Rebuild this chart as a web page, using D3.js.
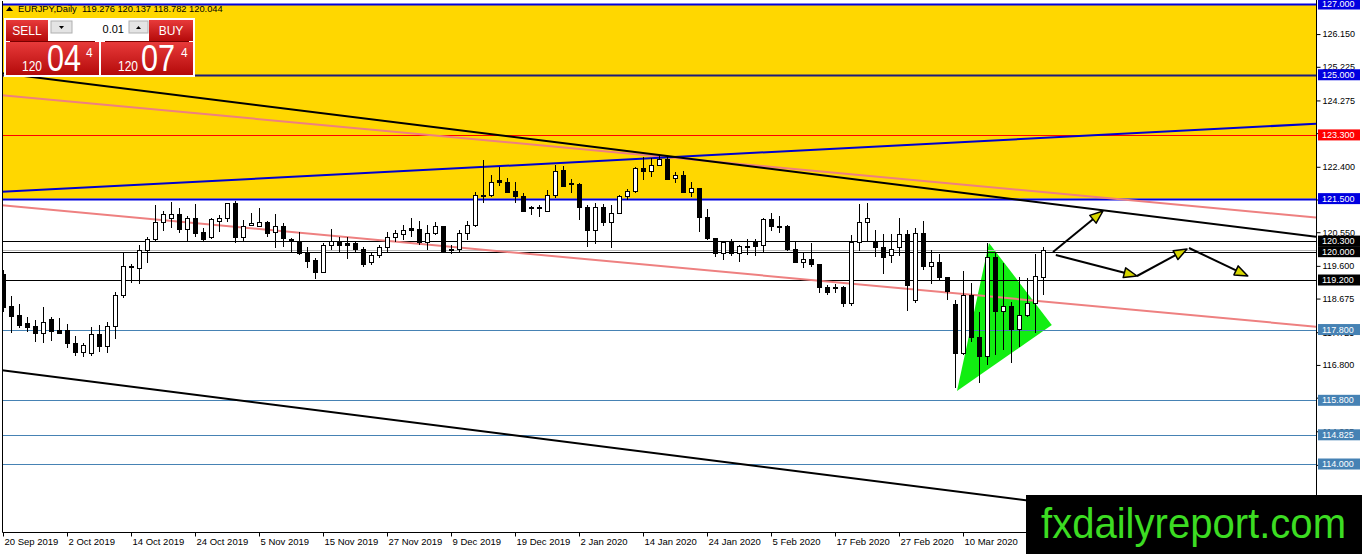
<!DOCTYPE html>
<html>
<head>
<meta charset="utf-8">
<script src="https://cdn.jsdelivr.net/npm/d3@7"></script>
<style>
html, body { margin: 0; padding: 0; background: #fff; overflow: hidden; }
svg { display: block; font-family: "Liberation Sans", Arial, sans-serif; }
</style>
</head>
<body>
<div id="chart"></div>
<script>
const width = 1362, height = 554;

const symbol = "EURJPY,Daily";

// daily bars, 20 Sep 2019 .. 24 Mar 2020
const opens = [119.342,118.465,118.183,117.957,117.872,117.702,118.070,117.759,117.759,117.392,
  117.137,117.109,117.646,117.307,117.872,118.776,119.568,119.511,120.020,120.331,
  120.811,120.952,121.065,120.641,120.924,120.556,120.387,120.867,120.924,121.348,
  120.415,120.754,120.726,120.839,120.556,120.698,120.331,120.246,119.963,119.737,
  119.426,120.161,120.274,120.218,120.218,120.076,119.681,119.879,120.105,120.415,
  120.500,120.669,120.641,120.246,120.528,120.698,120.076,120.048,120.528,120.754,
  121.602,121.574,121.998,121.969,121.687,121.546,121.235,121.207,121.150,121.574,
  122.308,121.941,121.885,121.235,120.585,121.263,120.839,121.093,121.546,121.687,
  122.337,122.280,122.450,122.619,122.082,122.167,121.659,121.772,120.980,120.359,
  119.935,120.246,119.963,120.105,120.246,120.161,120.896,120.726,120.726,120.048,
  119.681,119.766,119.652,119.002,118.974,119.002,118.522,120.246,120.839,120.246,
  120.105,119.879,120.105,120.500,118.607,120.528,119.568,119.681,119.257,118.494,
  117.109,118.776,117.589,117.024,119.850,118.296,118.437,117.787,118.183,118.550,
  119.276];
const highs = [119.483,118.748,118.522,118.155,118.070,118.437,118.155,118.126,117.957,117.618,
  117.420,117.872,117.929,118.013,118.861,119.963,119.652,120.189,120.416,121.320,
  121.150,121.404,121.235,121.009,121.348,120.669,120.952,121.037,121.376,121.433,
  120.896,121.093,121.235,120.867,121.065,120.811,120.387,120.556,120.133,119.822,
  120.246,120.641,120.415,120.415,120.274,120.133,119.963,120.189,120.556,120.613,
  120.754,120.952,120.867,120.754,120.839,120.726,120.189,120.613,120.867,121.687,
  122.591,122.167,122.393,122.082,121.969,121.659,121.291,121.320,121.743,122.450,
  122.421,122.054,121.941,121.320,121.376,121.348,121.320,121.602,121.772,122.393,
  122.676,122.648,122.733,122.676,122.252,122.280,121.969,121.800,121.207,120.359,
  120.274,120.359,120.189,120.359,120.359,120.952,121.093,121.009,120.754,120.274,
  119.963,120.246,119.652,119.059,119.087,119.030,120.472,121.348,121.376,120.613,
  120.500,120.500,120.952,120.613,120.670,120.868,120.048,119.935,119.257,118.635,
  119.455,119.115,118.296,120.246,119.963,119.681,118.578,119.285,119.257,119.935,
  120.137];
const lows = [118.296,117.702,117.844,117.731,117.448,117.420,117.476,117.680,117.279,117.052,
  117.024,117.052,117.165,117.137,117.533,118.692,119.116,119.087,119.681,120.274,
  120.585,120.669,120.528,120.302,120.415,120.274,120.359,120.556,120.839,120.246,
  120.302,120.726,120.698,120.415,120.105,120.133,119.992,119.907,119.540,119.228,
  119.398,120.048,119.963,119.794,119.963,119.568,119.624,119.822,119.963,120.274,
  120.331,120.415,120.189,120.048,120.472,119.963,119.935,119.992,120.331,120.698,
  121.376,121.546,121.856,121.659,121.376,121.122,121.037,120.980,121.122,121.517,
  121.828,121.659,120.896,120.133,120.218,120.726,120.105,121.065,121.461,121.659,
  122.026,122.110,122.421,122.026,121.941,121.659,121.546,120.556,120.331,119.850,
  119.766,119.879,119.709,119.907,119.879,119.963,120.585,120.528,120.020,119.681,
  119.540,119.568,118.833,118.776,118.833,118.437,118.465,120.020,120.274,119.850,
  119.370,119.681,119.879,118.324,118.550,119.483,119.087,119.200,118.635,116.148,
  117.081,117.448,116.289,116.798,117.081,117.222,116.854,117.307,118.155,117.702,
  118.782];
const closes = [118.409,118.155,117.928,117.844,117.702,118.013,117.731,117.702,117.392,117.137,
  117.363,117.646,117.307,117.872,118.776,119.568,119.540,120.020,120.331,120.811,
  121.065,121.065,120.641,120.924,120.528,120.331,120.896,120.924,121.348,120.415,
  120.726,120.783,120.839,120.528,120.698,120.359,120.274,119.963,119.709,119.426,
  120.161,120.274,120.161,120.189,120.076,119.652,119.879,120.105,120.415,120.528,
  120.613,120.613,120.246,120.528,120.698,119.992,120.048,120.528,120.754,121.602,
  121.546,121.969,121.969,121.659,121.546,121.150,121.207,121.235,121.574,122.280,
  121.856,121.885,121.235,120.585,121.263,120.839,121.093,121.546,121.687,122.337,
  122.280,122.450,122.619,122.054,122.167,121.659,121.772,120.980,120.359,119.935,
  120.246,119.963,120.133,120.133,120.133,120.896,120.698,120.698,120.048,119.681,
  119.766,119.652,119.002,118.833,119.002,118.522,120.246,120.839,120.952,120.105,
  119.822,120.076,120.500,119.031,120.528,119.568,119.681,119.257,118.861,117.109,
  118.776,117.561,117.024,119.850,118.296,118.437,117.787,118.183,118.550,119.313,
  120.044];

const dateTickBars = [0, 8, 16, 24, 32, 40, 48, 56, 64, 72, 80, 88, 96, 104, 112, 120];
const dateTickLabels = ["20 Sep 2019", "2 Oct 2019", "14 Oct 2019", "24 Oct 2019", "5 Nov 2019",
  "15 Nov 2019", "27 Nov 2019", "9 Dec 2019", "19 Dec 2019", "2 Jan 2020", "14 Jan 2020",
  "24 Jan 2020", "5 Feb 2020", "17 Feb 2020", "27 Feb 2020", "10 Mar 2020"];

const priceTicks = [126.150, 125.225, 124.275, 123.350, 122.400, 121.475, 120.550, 119.600,
  118.675, 117.725, 116.800, 115.875, 114.925, 113.975, 113.025];

// drawn objects
const zoneTop = 127.0, zoneBottom = 121.5;
const blueLevels = [127.0, 125.0, 121.5];
const redLevels = [123.3];
const blackLevels = [120.3, 120.0, 119.2];
const steelLevels = [117.8, 115.8, 114.825, 114.0];

// trendlines as [bar, price] anchor pairs, drawn as rays across the chart
const blackTrends = [[[0, 125.038], [130, 121.382]], [[0, 116.646], [130, 112.912]]];
const pinkTrends = [[[0, 124.420], [130, 121.684]], [[0, 121.312], [130, 118.595]]];
const blueTrends = [[[0, 121.692], [130, 123.216]]];

const triangle = [[119.25, 116.063], [123.25, 120.246], [131.1, 117.928]];

const arrows = [
  [[131.25, 119.991], [137.5, 121.150]],
  [[131.6, 119.906], [141.75, 119.313]],
  [[141.75, 119.313], [148.0, 120.076]],
  [[148.25, 120.105], [155.6, 119.313]]
];

const bars = opens.map((o, i) => ({ i, o, h: highs[i], l: lows[i], c: closes[i] }));
const last = bars[bars.length - 1];

const plotLeft = 2, plotRight = 1316, plotTop = 1, plotBottom = 532;

const x = d3.scaleLinear().domain([0, 130]).range([3, 1043]);
const y = d3.scaleLinear().domain([127, 114]).range([4, 464]);

const svg = d3.select("#chart").append("svg")
    .attr("width", width)
    .attr("height", height);

const defs = svg.append("defs");
defs.append("clipPath").attr("id", "plot")
  .append("rect")
    .attr("x", plotLeft).attr("y", plotTop)
    .attr("width", plotRight - plotLeft).attr("height", plotBottom - plotTop);

const grad = defs.append("linearGradient").attr("id", "red").attr("x1", 0).attr("x2", 0).attr("y1", 0).attr("y2", 1);
grad.append("stop").attr("offset", "0%").attr("stop-color", "#e83a3a");
grad.append("stop").attr("offset", "100%").attr("stop-color", "#b40a0a");

const plot = svg.append("g").attr("clip-path", "url(#plot)");

// yellow zone
plot.append("rect")
    .attr("x", plotLeft)
    .attr("y", y(zoneTop))
    .attr("width", plotRight - plotLeft)
    .attr("height", y(zoneBottom) - y(zoneTop))
    .attr("fill", "#ffd700");

// green triangle
plot.append("path")
    .attr("d", d3.line().x(d => x(d[0])).y(d => y(d[1]))(triangle) + "Z")
    .attr("fill", "#11ee11");

function hLevels(levels, color, w) {
  plot.selectAll(null).data(levels).enter().append("line")
      .attr("x1", plotLeft).attr("x2", plotRight)
      .attr("y1", d => Math.round(y(d)) + 0.5)
      .attr("y2", d => Math.round(y(d)) + 0.5)
      .attr("stroke", color)
      .attr("stroke-width", w);
}
hLevels(steelLevels, "#4682b4", 1);
hLevels(blackLevels, "#000", 1);
hLevels(redLevels, "#ff0000", 1);

// bid line
plot.append("line")
    .attr("x1", plotLeft).attr("x2", plotRight)
    .attr("y1", Math.round(y(last.c)) + 0.5).attr("y2", Math.round(y(last.c)) + 0.5)
    .attr("stroke", "#b8b8b8");

hLevels([blueLevels[1]], "#1c1c7a", 2);
hLevels([blueLevels[0], blueLevels[2]], "#0000e0", 2);

function ray(seg) {
  const [a, b] = seg;
  const k = (b[1] - a[1]) / (b[0] - a[0]);
  const i0 = x.invert(plotLeft), i1 = x.invert(plotRight);
  return [[i0, a[1] + k * (i0 - a[0])], [i1, a[1] + k * (i1 - a[0])]];
}
function trends(list, color) {
  plot.selectAll(null).data(list).enter().append("path")
      .attr("d", d => d3.line().x(p => x(p[0])).y(p => y(p[1]))(ray(d)))
      .attr("fill", "none")
      .attr("stroke", color)
      .attr("stroke-width", 2);
}
trends(pinkTrends, "#ee8080");
trends(blueTrends, "#0000cd");
trends(blackTrends, "#000");

// candles
const candles = plot.append("g").attr("shape-rendering", "crispEdges");
candles.selectAll("line").data(bars).enter().append("line")
    .attr("x1", d => Math.round(x(d.i)) + 0.5)
    .attr("x2", d => Math.round(x(d.i)) + 0.5)
    .attr("y1", d => y(d.h))
    .attr("y2", d => y(d.l))
    .attr("stroke", "#000");
candles.selectAll("rect").data(bars).enter().append("rect")
    .attr("x", d => Math.round(x(d.i)) - 1.5)
    .attr("y", d => y(Math.max(d.o, d.c)))
    .attr("width", 4)
    .attr("height", d => Math.max(1, Math.abs(y(d.o) - y(d.c))))
    .attr("fill", d => d.c >= d.o ? "#fff" : "#000")
    .attr("stroke", "#000");

// arrowed lines
arrows.forEach(seg => {
  const x0 = x(seg[0][0]), y0 = y(seg[0][1]);
  const x1 = x(seg[1][0]), y1 = y(seg[1][1]);
  const ang = Math.atan2(y1 - y0, x1 - x0);
  const len = 13, half = 5;
  const bx = x1 - len * Math.cos(ang), by = y1 - len * Math.sin(ang);
  plot.append("line")
      .attr("x1", x0).attr("y1", y0).attr("x2", bx).attr("y2", by)
      .attr("stroke", "#000").attr("stroke-width", 2);
  const pts = [[x1, y1],
    [bx + half * Math.sin(ang), by - half * Math.cos(ang)],
    [bx - half * Math.sin(ang), by + half * Math.cos(ang)]];
  plot.append("path")
      .attr("d", "M" + pts.join("L") + "Z")
      .attr("fill", "#d6d600")
      .attr("stroke", "#000")
      .attr("stroke-width", 1.5)
      .attr("stroke-linejoin", "round");
});

// frame
svg.append("path")
    .attr("d", `M${plotLeft + 0.5},${plotTop}V${plotBottom + 0.5}H${plotRight + 0.5}V0`)
    .attr("fill", "none")
    .attr("stroke", "#000");

// price axis
const yAxis = svg.append("g")
    .attr("transform", `translate(${plotRight + 0.5},0)`)
    .call(d3.axisRight(y).tickValues(priceTicks).tickFormat(d3.format(".3f")).tickSize(4).tickPadding(2));
yAxis.select(".domain").remove();
yAxis.selectAll("text").attr("font-size", 9).attr("fill", "#000").attr("font-family", "Liberation Sans, Arial, sans-serif");

function levelTags(levels, color) {
  const g = svg.selectAll(null).data(levels).enter().append("g")
      .attr("transform", d => `translate(${plotRight + 2},${y(d)})`);
  g.append("rect")
      .attr("x", 0).attr("y", -5.5).attr("width", 42).attr("height", 11)
      .attr("fill", color);
  g.append("text")
      .attr("x", 4).attr("dy", "0.35em")
      .attr("font-size", 9).attr("fill", "#fff")
      .text(d => d3.format(".3f")(d));
}
levelTags(blueLevels, "#0000e0");
levelTags(redLevels, "#ff0000");
levelTags(blackLevels, "#000");
levelTags(steelLevels, "#4682b4");

// time axis
const xAxis = svg.append("g")
    .attr("transform", `translate(0,${plotBottom + 0.5})`)
    .call(d3.axisBottom(x).tickValues(dateTickBars).tickFormat((d, k) => dateTickLabels[k]).tickSize(4).tickPadding(2));
xAxis.select(".domain").remove();
xAxis.selectAll("text")
    .attr("text-anchor", "start")
    .attr("x", 1)
    .attr("font-size", 9.5)
    .attr("fill", "#000")
    .attr("font-family", "Liberation Sans, Arial, sans-serif");

// header
svg.append("path").attr("d", "M6,11L9.5,6.5L13,11Z").attr("fill", "#000");
svg.append("text")
    .attr("x", 18).attr("y", 12)
    .attr("font-size", 9.3)
    .style("white-space", "pre")
    .text(`${symbol}  ${last.o.toFixed(3)} ${last.h.toFixed(3)} ${last.l.toFixed(3)} ${last.c.toFixed(3)}`);

// one-click trading panel
const panel = svg.append("g");
panel.append("rect").attr("x", 4).attr("y", 18).attr("width", 191).attr("height", 59).attr("fill", "#fff");
[[6, 42, "SELL"], [149, 44, "BUY"]].forEach(([bx, bw, label]) => {
  panel.append("rect").attr("x", bx).attr("y", 20).attr("width", bw).attr("height", 21).attr("fill", "url(#red)");
  panel.append("text").attr("x", bx + bw / 2).attr("y", 35).attr("text-anchor", "middle")
      .attr("font-size", 12).attr("fill", "#fff").text(label);
});
panel.append("rect").attr("x", 51).attr("y", 21).attr("width", 21).attr("height", 12).attr("fill", "#e4e4e4").attr("stroke", "#b0b0b0");
panel.append("rect").attr("x", 129).attr("y", 21).attr("width", 19).attr("height", 12).attr("fill", "#e4e4e4").attr("stroke", "#b0b0b0");
panel.append("path").attr("d", "M59,26h5l-2.5,3Z").attr("fill", "#000");
panel.append("path").attr("d", "M136,29h5l-2.5,-3Z").attr("fill", "#000");
panel.append("text").attr("x", 124).attr("y", 33).attr("text-anchor", "end").attr("font-size", 11).attr("fill", "#000").text("0.01");
[[6, 93, "120", "04", "4", 22, 47, 86], [101, 92, "120", "07", "4", 118, 141, 181]].forEach(([bx, bw, big, pip, frac, tx, px, fx]) => {
  panel.append("rect").attr("x", bx).attr("y", 42).attr("width", bw).attr("height", 33).attr("fill", "url(#red)");
  panel.append("line").attr("x1", bx + 4).attr("x2", bx + bw - 4).attr("y1", 41.5).attr("y2", 41.5).attr("stroke", "#7a0000");
  panel.append("text").attr("x", tx).attr("y", 71).attr("font-size", 14)
      .attr("textLength", 20).attr("lengthAdjust", "spacingAndGlyphs").attr("fill", "#fff").text(big);
  panel.append("text").attr("x", px).attr("y", 71).attr("font-size", 37)
      .attr("textLength", 34).attr("lengthAdjust", "spacingAndGlyphs").attr("fill", "#fff").text(pip);
  panel.append("text").attr("x", fx).attr("y", 57).attr("font-size", 12).attr("fill", "#fff").text(frac);
});

// watermark
svg.append("rect").attr("x", 1026).attr("y", 495).attr("width", width - 1026).attr("height", height - 495).attr("fill", "#000");
svg.append("text")
    .attr("x", 1041).attr("y", 538)
    .attr("font-size", 42)
    .attr("textLength", 305)
    .attr("lengthAdjust", "spacingAndGlyphs")
    .attr("fill", "#3cdc22")
    .text("fxdailyreport.com");
</script>
</body>
</html>
